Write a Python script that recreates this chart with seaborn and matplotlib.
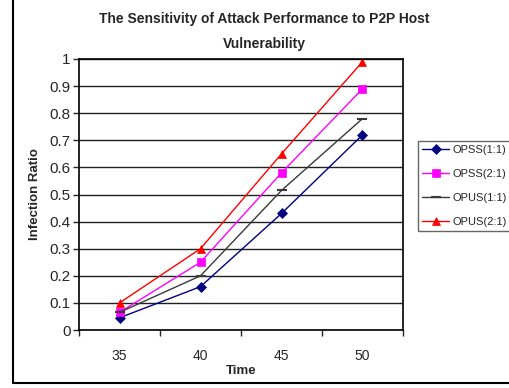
import numpy as np
import matplotlib
matplotlib.use("Agg")
import matplotlib.pyplot as plt
import pandas as pd
import seaborn as sns
from matplotlib.lines import Line2D

# data
times = ["35", "40", "45", "50"]
opss_11 = [0.045, 0.16, 0.43, 0.72]
opss_21 = [0.065, 0.25, 0.58, 0.89]
opus_11 = [0.065, 0.20, 0.515, 0.78]
opus_21 = [0.10, 0.30, 0.65, 0.99]
series_names = ["OPSS(1:1)", "OPSS(2:1)", "OPUS(1:1)", "OPUS(2:1)"]

sns.set_style("white")
plt.rcParams["font.family"] = ["Liberation Sans", "DejaVu Sans"]

df = pd.DataFrame({
    "pos": list(range(len(times))) * 4,
    "ratio": opss_11 + opss_21 + opus_11 + opus_21,
    "series": [s for s in series_names for _ in times],
})

colors = ["#000080", "#FF00FF", "#3a3a3a", "#FF0000"]
markers = ["D", "s", "_", "^"]
msizes = [5, 6, 7, 6]

fig = plt.figure(figsize=(5.1, 3.88), dpi=100)
ax = fig.add_axes([79 / 510, 1 - 330 / 388, (403 - 79) / 510, (330 - 59) / 388])

for name, c, m, ms in zip(series_names, colors, markers, msizes):
    sub = df[df["series"] == name]
    sns.lineplot(data=sub, x="pos", y="ratio", ax=ax, color=c, marker=m,
                 markersize=ms, markeredgecolor=c, markeredgewidth=1.5 if m == "_" else 0.5,
                 linewidth=1, label=name)

ax.set_xlim(-0.5, len(times) - 0.5)
ax.set_ylim(0, 1)
ax.set_yticks(np.arange(0, 1.01, 0.1))
ax.set_yticklabels(["0"] + [f"{v:.1f}" for v in np.arange(0.1, 0.91, 0.1)] + ["1"])
ax.set_xticks(np.arange(-0.5, len(times), 1.0))
ax.set_xticklabels([])
ax.set_xticks(range(len(times)), minor=True)
ax.set_xticklabels(times, minor=True)
ax.tick_params(axis="x", which="major", direction="out", length=4, width=1, bottom=True)
ax.tick_params(axis="x", which="minor", length=0, pad=14, labelsize=10)
ax.tick_params(axis="y", direction="out", length=4, width=1, left=True, labelsize=11, pad=2)
ax.yaxis.grid(True, color="#202020", linewidth=1)
ax.set_axisbelow(True)
for side in ["top", "right"]:
    ax.spines[side].set_visible(True)
for sp in ax.spines.values():
    sp.set_color("black")
    sp.set_linewidth(1.2)

ax.set_xlabel("Time", fontsize=9.5, fontweight="bold", labelpad=1)
ax.set_ylabel("Infection Ratio", fontsize=9.5, fontweight="bold", labelpad=6)

fig.text(264 / 510, 1 - 19 / 388, "The Sensitivity of Attack Performance to P2P Host",
         ha="center", va="center", fontsize=10, fontweight="bold")
fig.text(264 / 510, 1 - 44 / 388, "Vulnerability",
         ha="center", va="center", fontsize=10, fontweight="bold")

leg = ax.legend(loc="center left", bbox_to_anchor=(418 / 510, 1 - 186 / 388),
                bbox_transform=fig.transFigure, frameon=True, fancybox=False,
                fontsize=8, handlelength=2.4, handletextpad=0.3, borderpad=0.4,
                labelspacing=1.25, borderaxespad=0)
leg.get_frame().set_edgecolor("#404040")
leg.get_frame().set_linewidth(1)

# outer chart frame (left and bottom edges visible)
fig.add_artist(Line2D([13 / 510, 13 / 510], [1 - 383 / 388, 1], transform=fig.transFigure,
                      color="black", linewidth=1.5))
fig.add_artist(Line2D([13 / 510, 1], [1 - 383 / 388, 1 - 383 / 388], transform=fig.transFigure,
                      color="black", linewidth=1.5))

fig.savefig("out.png", dpi=100)
